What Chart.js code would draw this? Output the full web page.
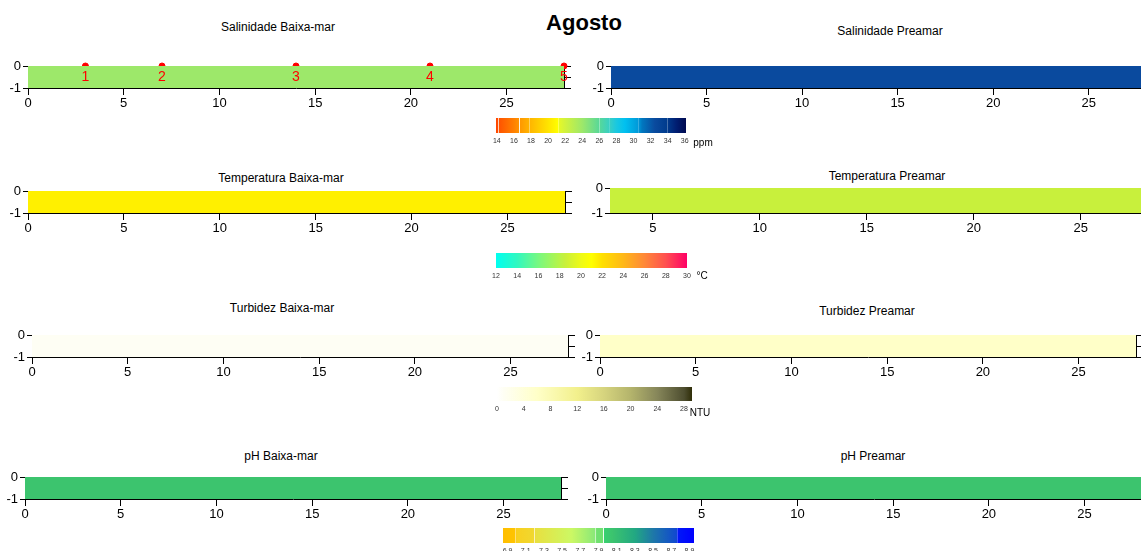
<!DOCTYPE html>
<html><head><meta charset="utf-8">
<script src="https://cdn.jsdelivr.net/npm/chart.js@4.4.0/dist/chart.umd.min.js"></script>
<style>
html,body{margin:0;padding:0;background:#fff;width:1141px;height:551px;overflow:hidden;position:relative;font-family:"Liberation Sans",Arial,sans-serif;}
canvas{position:absolute;}
.t{position:absolute;transform:translate(-50%,-50%);white-space:nowrap;font-size:12px;color:#000;line-height:1;}
</style></head><body>
<script>
// ---------- data ----------
const mainTitle = 'Agosto';
const panelTitles = ['Salinidade Baixa-mar','Salinidade Preamar','Temperatura Baixa-mar','Temperatura Preamar',
                     'Turbidez Baixa-mar','Turbidez Preamar','pH Baixa-mar','pH Preamar'];
const panelVariable = ['sal','sal','temp','temp','turb','turb','ph','ph'];
const fieldValues = [24, 32.5, 21.5, 18.5, 1, 6, 8.05, 8.05];   // near-uniform section value
const sectionX = [0, 28];            // distance along section
const depthTicks = [0, -0.5, -1];
const xTicks = [0, 5, 10, 15, 20, 25];
const stationX = [3, 7, 14, 21, 28];
const stationLabels = ['1','2','3','4','5'];

const salTicks  = [14,16,18,20,22,24,26,28,30,32,34,36];
const tempTicks = [12,14,16,18,20,22,24,26,28,30];
const turbTicks = [0,4,8,12,16,20,24,28];
const phTicks   = [6.9,7.1,7.3,7.5,7.7,7.9,8.1,8.3,8.5,8.7,8.9];
const units = {sal:'ppm', temp:'°C', turb:'NTU', ph:''};

const salScale = [[13.9,'#ff4400'],[14.15,'#ff5000'],[16,'#ff8000'],[16.6,'#ff9400'],[17.8,'#ffb400'],[20,'#ffe400'],
  [21.2,'#ffff00'],[21.3,'#e4f828'],[22,'#d2f23c'],[24,'#9de86a'],[26,'#58d898'],[27.2,'#38cfc4'],[28,'#1ac8e0'],
  [29,'#00c0f0'],[30.6,'#0098d8'],[31,'#0078c0'],[32.5,'#0a4a9e'],[34,'#003a8c'],[35,'#001e72'],[36.15,'#000a50']];
const tempScale = [[12,'#00fff0'],[14,'#30f8c0'],[16,'#78f880'],[18,'#b8f448'],[18.5,'#c8f03c'],[20,'#eefa18'],
  [21,'#ffff00'],[21.5,'#fff000'],[22,'#ffe000'],[24,'#ffb818'],[26,'#ff8838'],[28,'#ff5050'],[30,'#ff0066']];
const turbScale = [[0,'#ffffff'],[1,'#fefef4'],[6,'#ffffc8'],[12,'#f2f08c'],[16,'#d6d47e'],[20,'#b4b46c'],
  [24,'#86865a'],[28,'#4e4e30'],[29.2,'#302e08']];
const phScale = [[6.85,'#ffbe00'],[6.99,'#ffc400'],[7.0,'#f8d020'],[7.2,'#f0d830'],[7.21,'#e8e040'],[7.6,'#ccf864'],
  [7.87,'#88e878'],[7.88,'#70e070'],[7.95,'#70e070'],[7.96,'#38d070'],[8.05,'#3cc46e'],[8.3,'#22a882'],
  [8.5,'#1e78a8'],[8.76,'#1048d0'],[8.77,'#0018f8'],[8.95,'#0000ff']];
const salSeparators = [14.15,16.6,17.8,21.2,26.0,27.2,30.6,34.0];
const phSeparators = [6.99,7.2,7.87,7.95,8.77];

// ---------- layout (positions only) ----------
// plot area [left, top, right, bottom, xmin]
const panelRects = [
  [28,66,564,88,0],[611,66,1146,88,0],
  [28,191,565,213,0],[610,188,1145,213,3],
  [32,335,568,357,0],[600,335,1136,357,0],
  [25,477,561,499,0],[606,477,1142,499,0]];
const titlePos = [[278,27],[890,31],[281,178],[887,176],[282,308],[867,311],[281,456],[873,456]];
// colorbar [left, top, right, bottom, min, max]
const colorbars = [
  {v:'sal', r:[496,118,686,133,13.9,36.15], ticks:salTicks, scale:salScale, seps:salSeparators, unit:[703,143]},
  {v:'temp',r:[496,253,687,268,12,30], ticks:tempTicks, scale:tempScale, seps:[], unit:[702,276]},
  {v:'turb',r:[497,387,692,401,0,29.2], ticks:turbTicks, scale:turbScale, seps:[], unit:[700,413]},
  {v:'ph',  r:[503,528,694,543,6.85,8.95], ticks:phTicks, scale:phScale, seps:phSeparators, unit:null}];
const scales = {sal:salScale,temp:tempScale,turb:turbScale,ph:phScale};

// ---------- helpers ----------
function hex(c){return [parseInt(c.slice(1,3),16),parseInt(c.slice(3,5),16),parseInt(c.slice(5,7),16)];}
function colorAt(sc, v){
  if (v<=sc[0][0]) return sc[0][1];
  for (let i=1;i<sc.length;i++){
    if (v<=sc[i][0]){
      const a=hex(sc[i-1][1]), b=hex(sc[i][1]), t=(v-sc[i-1][0])/(sc[i][0]-sc[i-1][0]);
      return 'rgb('+a.map((x,k)=>Math.round(x+(b[k]-x)*t)).join(',')+')';
    }
  }
  return sc[sc.length-1][1];
}
function addText(txt,x,y,style){
  const d=document.createElement('div'); d.className='t'; d.textContent=txt;
  d.style.left=x+'px'; d.style.top=y+'px'; if(style) d.style.cssText+=style;
  document.body.appendChild(d);
}
function mkCanvas(l,t,w,h){
  const c=document.createElement('canvas'); c.width=w; c.height=h;
  c.style.left=l+'px'; c.style.top=t+'px'; c.style.width=w+'px'; c.style.height=h+'px';
  document.body.appendChild(c); return c;
}
const FONT = '"Liberation Sans", Arial, sans-serif';
Chart.defaults.font.family = FONT;
Chart.defaults.animation = false;

const stationLabelPlugin = {
  id:'stationLabels',
  afterDatasetsDraw(chart){
    chart.data.datasets.forEach((ds,di)=>{
      if(!ds.stationText) return;
      const meta=chart.getDatasetMeta(di), ctx=chart.ctx;
      ctx.save(); ctx.fillStyle='#ff0000'; ctx.font='14px '+FONT;
      ctx.textAlign='center'; ctx.textBaseline='middle';
      meta.data.forEach((p,i)=>ctx.fillText(ds.stationText[i],p.x,p.y+11));
      ctx.restore();
    });
  }
};

// ---------- panels ----------
addText(mainTitle,584,23,'font-size:22px;font-weight:bold;');
panelTitles.forEach((t,i)=>addText(t,titlePos[i][0],titlePos[i][1]));

const padL=30,padT=10,rAx=12,xAxH=26,padR=2;
panelRects.forEach((R,i)=>{
  const [l,t,r,b,xmin]=R;
  const w=r-l+padL+rAx+padR, h=b-t+padT+xAxH;
  const cv=mkCanvas(l-padL,t-padT,w,h);
  const col=colorAt(scales[panelVariable[i]],fieldValues[i]);
  const datasets=[{
    type:'line', label:panelTitles[i],
    data:sectionX.map(x=>({x:x,y:0})),
    fill:{value:-1}, backgroundColor:col, borderWidth:0, pointRadius:0
  }];
  if(i===0){
    datasets.push({type:'scatter', data:stationX.map(x=>({x:x,y:0})), stationText:stationLabels,
      backgroundColor:'#ff0000', borderColor:'#ff0000', pointRadius:3, clip:false});
  }
  const axisGrid = (len)=>({drawOnChartArea:false, color:'#000', tickLength:len, lineWidth:1});
  new Chart(cv,{
    data:{datasets},
    plugins:[stationLabelPlugin],
    options:{
      responsive:false, animation:false,
      layout:{padding:{left:0,top:padT,right:padR,bottom:0}},
      plugins:{legend:{display:false},tooltip:{enabled:false}},
      scales:{
        x:{type:'linear',min:xmin,max:28,
          afterBuildTicks:s=>{s.ticks=xTicks.filter(v=>v>=xmin).map(v=>({value:v}));},
          afterFit:s=>{s.height=xAxH;},
          grid:axisGrid(7), border:{display:true,color:'#000',width:1},
          ticks:{color:'#000',font:{size:13},padding:1,maxRotation:0,autoSkip:false}},
        y:{type:'linear',position:'left',min:-1,max:0,
          afterBuildTicks:s=>{s.ticks=depthTicks.map(v=>({value:v}));},
          afterFit:s=>{s.width=padL;},
          grid:axisGrid(5), border:{display:true,color:'#000',width:1},
          ticks:{color:'#000',font:{size:13},padding:2,callback:v=>v===-0.5?'':String(v)}},
        y2:{type:'linear',position:'right',min:-1,max:0,
          afterBuildTicks:s=>{s.ticks=depthTicks.map(v=>({value:v}));},
          afterFit:s=>{s.width=rAx;},
          grid:axisGrid(7), border:{display:true,color:'#000',width:1},
          ticks:{display:false}}
      }
    }
  });
});

// ---------- colorbars ----------
colorbars.forEach(cb=>{
  const [l,t,r,b,mn,mx]=cb.r, pad=10, labH=16;
  const cv=mkCanvas(l-pad,t,r-l+2*pad,b-t+labH);
  new Chart(cv,{
    type:'bar',
    data:{labels:[''],datasets:[{
      data:[[mn,mx]], barPercentage:1, categoryPercentage:1, borderWidth:0,
      backgroundColor:(ctx)=>{
        const ch=ctx.chart, a=ch.chartArea; if(!a) return '#fff';
        const xs=ch.scales.x, W=a.right-a.left;
        const off=v=>Math.min(1,Math.max(0,(xs.getPixelForValue(v)-a.left)/W));
        const g=ch.ctx.createLinearGradient(a.left,0,a.right,0);
        const stops=cb.scale.map(s=>[off(s[0]),s[1]]);
        const d=0.5/W*(mx-mn);
        cb.seps.forEach(s=>{
          stops.push([off(s-d),colorAt(cb.scale,s-d)],[off(s-d)+1e-6,'#ffffff'],[off(s+d)-1e-6,'#ffffff'],[off(s+d),colorAt(cb.scale,s+d)]);
        });
        stops.sort((p,q)=>p[0]-q[0]);
        stops.forEach(s=>g.addColorStop(s[0],s[1]));
        return g;
      }
    }]},
    options:{
      indexAxis:'y', responsive:false, animation:false,
      layout:{padding:{left:pad,right:pad,top:0,bottom:0}},
      plugins:{legend:{display:false},tooltip:{enabled:false}},
      scales:{
        x:{type:'linear',min:mn,max:mx,
          afterBuildTicks:s=>{s.ticks=cb.ticks.map(v=>({value:v}));},
          afterFit:s=>{s.height=labH;},
          grid:{display:false, drawTicks:false, tickLength:0}, border:{display:false},
          ticks:{color:'#333',font:{size:7},padding:4,maxRotation:0,autoSkip:false,
                 callback:v=>cb.v==='ph'?Number(v).toFixed(1):String(v)}},
        y:{display:false}
      }
    }
  });
  if(cb.unit) addText(units[cb.v],cb.unit[0],cb.unit[1],'font-size:10px;');
});
</script>
</body></html>
